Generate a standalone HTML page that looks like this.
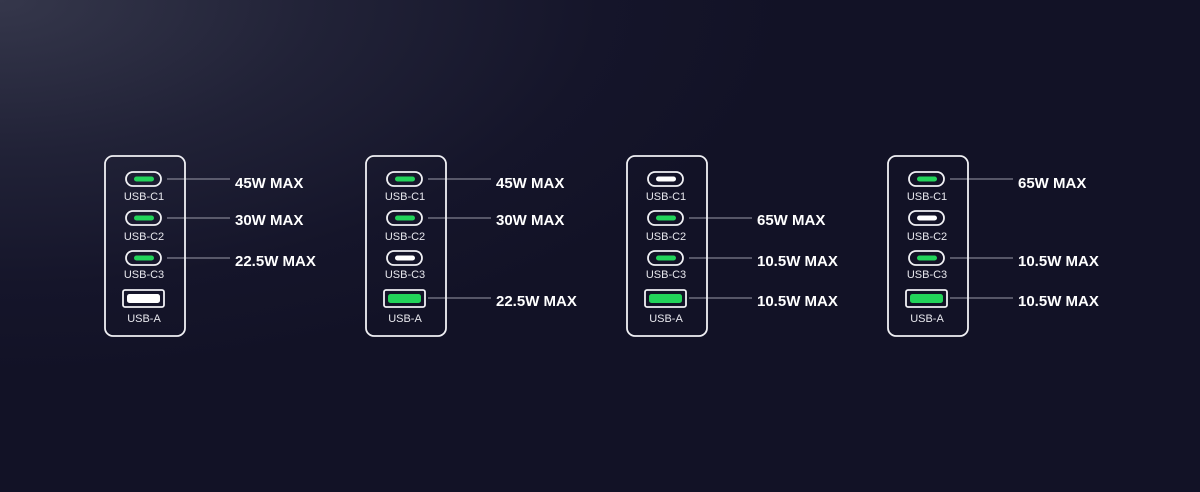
<!DOCTYPE html>
<html><head><style>
html,body{margin:0;padding:0;width:1200px;height:492px;overflow:hidden;
background:radial-gradient(ellipse 800px 380px at 0px 0px,#35374b 0%,#212237 40%,#15152a 75%,#121226 100%);}
svg{position:absolute;left:0;top:0}
text{font-family:"Liberation Sans",sans-serif;fill:#fff}
.l{font-size:11px;text-anchor:middle;fill:#e8e8ee}
.t{font-size:15px;font-weight:bold}
</style></head><body>
<svg width="1200" height="492">
<defs>
<g id="box"><rect x="105" y="156" width="80" height="180" rx="8" fill="none" stroke="#f0f0f4" stroke-width="1.8"/>
<text class="l" x="144" y="200">USB-C1</text>
<text class="l" x="144" y="240">USB-C2</text>
<text class="l" x="144" y="278">USB-C3</text>
<text class="l" x="144" y="322">USB-A</text>
<rect x="126" y="172" width="35" height="14" rx="7" fill="none" stroke="#f0f0f4" stroke-width="1.8"/>
<rect x="126" y="211" width="35" height="14" rx="7" fill="none" stroke="#f0f0f4" stroke-width="1.8"/>
<rect x="126" y="251" width="35" height="14" rx="7" fill="none" stroke="#f0f0f4" stroke-width="1.8"/>
<rect x="123" y="290" width="41" height="17" rx="2" fill="none" stroke="#f0f0f4" stroke-width="1.8"/>
</g>
<rect id="g" width="20" height="5" rx="2.5" fill="#22d45a"/>
<rect id="w" width="20" height="5" rx="2.5" fill="#ffffff"/>
<rect id="ga" width="33" height="9" rx="2.5" fill="#22d45a"/>
<rect id="wa" width="33" height="9" rx="2.5" fill="#ffffff"/>
</defs>
<g stroke="#9a9aa8" stroke-width="1">
<line x1="167" y1="179" x2="230" y2="179"/><line x1="167" y1="218" x2="230" y2="218"/><line x1="167" y1="258" x2="230" y2="258"/>
<line x1="428" y1="179" x2="491" y2="179"/><line x1="428" y1="218" x2="491" y2="218"/><line x1="428" y1="298" x2="491" y2="298"/>
<line x1="689" y1="218" x2="752" y2="218"/><line x1="689" y1="258" x2="752" y2="258"/><line x1="689" y1="298" x2="752" y2="298"/>
<line x1="950" y1="179" x2="1013" y2="179"/><line x1="950" y1="258" x2="1013" y2="258"/><line x1="950" y1="298" x2="1013" y2="298"/>
</g>
<g><use href="#box"/>
<use href="#g" x="134" y="176.5"/><use href="#g" x="134" y="215.5"/><use href="#g" x="134" y="255.5"/><use href="#wa" x="127" y="294"/></g>
<text class="t" x="235" y="188">45W MAX</text><text class="t" x="235" y="225">30W MAX</text><text class="t" x="235" y="266">22.5W MAX</text>
<g transform="translate(261,0)"><use href="#box"/>
<use href="#g" x="134" y="176.5"/><use href="#g" x="134" y="215.5"/><use href="#w" x="134" y="255.5"/><use href="#ga" x="127" y="294"/></g>
<text class="t" x="496" y="188">45W MAX</text><text class="t" x="496" y="225">30W MAX</text><text class="t" x="496" y="306">22.5W MAX</text>
<g transform="translate(522,0)"><use href="#box"/>
<use href="#w" x="134" y="176.5"/><use href="#g" x="134" y="215.5"/><use href="#g" x="134" y="255.5"/><use href="#ga" x="127" y="294"/></g>
<text class="t" x="757" y="225">65W MAX</text><text class="t" x="757" y="266">10.5W MAX</text><text class="t" x="757" y="306">10.5W MAX</text>
<g transform="translate(783,0)"><use href="#box"/>
<use href="#g" x="134" y="176.5"/><use href="#w" x="134" y="215.5"/><use href="#g" x="134" y="255.5"/><use href="#ga" x="127" y="294"/></g>
<text class="t" x="1018" y="188">65W MAX</text><text class="t" x="1018" y="266">10.5W MAX</text><text class="t" x="1018" y="306">10.5W MAX</text>
</svg>
</body></html>
